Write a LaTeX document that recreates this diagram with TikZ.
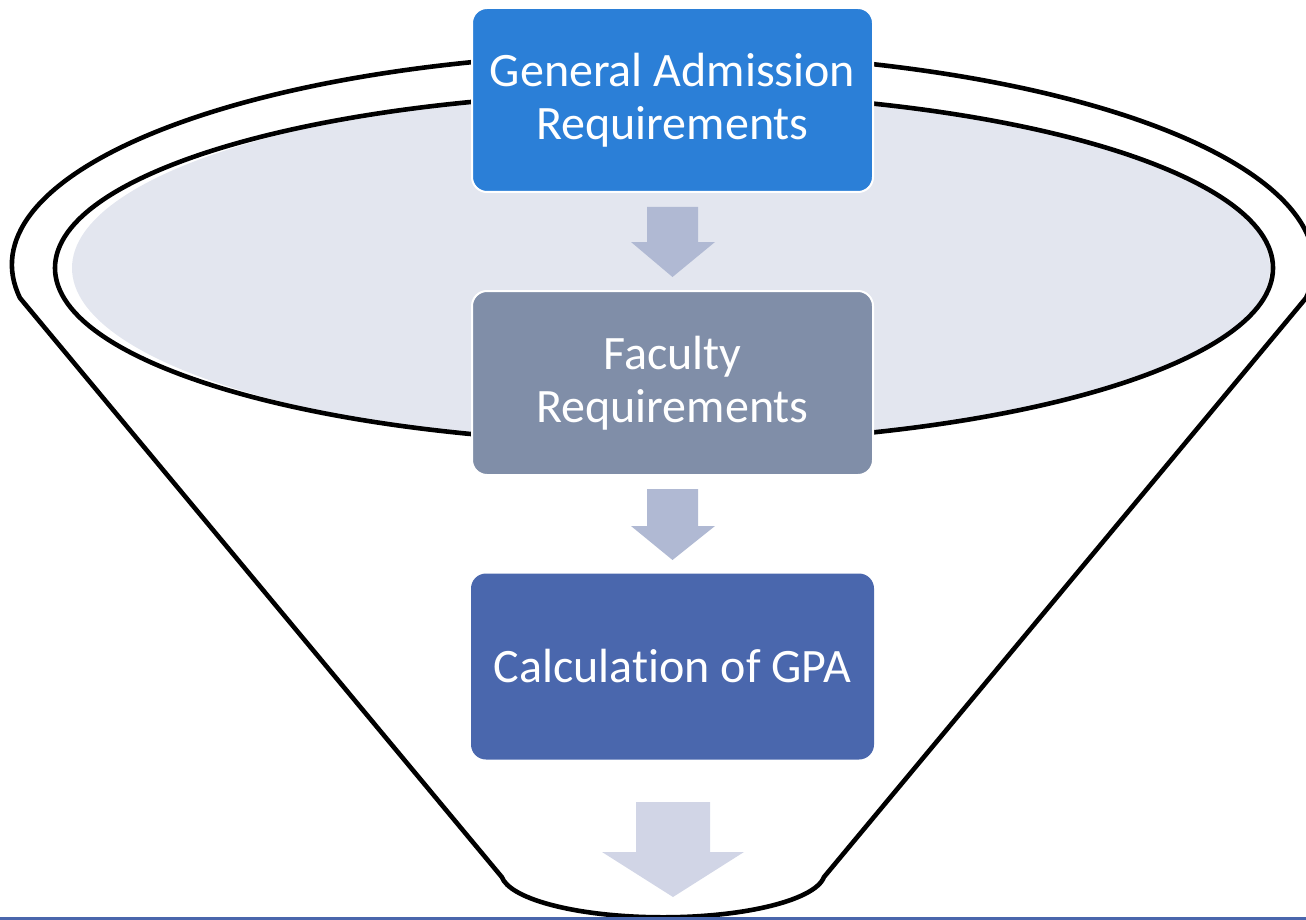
\documentclass[tikz,border=0pt]{standalone}
\usepackage{fontspec}
\setmainfont{Carlito}[RawFeature={-liga;-clig;-calt;-dlig}]
\definecolor{boxA}{RGB}{43,127,215}
\definecolor{boxB}{RGB}{128,142,168}
\definecolor{boxC}{RGB}{74,103,173}
\definecolor{arrA}{RGB}{176,185,211}
\definecolor{arrC}{RGB}{209,213,230}
\definecolor{ellfill}{RGB}{227,230,239}
\definecolor{barblue}{RGB}{74,102,172}
\begin{document}
\begin{tikzpicture}[x=1pt,y=-1pt,
  funnel/.style={draw=black,line width=4.6pt,line join=round},
  box/.style={rounded corners=15pt, draw=white, line width=2pt,
    minimum width=401pt, minimum height=184pt, text=white, align=center,
    font=\fontsize{48}{53}\selectfont, inner sep=0pt},
  blockarrow/.style={fill=#1, draw=none}]
\useasboundingbox (0,0) rectangle (1306,920);
\clip (0,0) rectangle (1306,920);
% funnel outline
\draw[funnel] (20,298) arc[start angle=171, end angle=369, x radius=651, y radius=212]
  -- (824,877) arc[start angle=6, end angle=174, x radius=162, y radius=45] -- cycle;
% inner ellipse
\fill[ellfill] (671,268) ellipse[x radius=599, y radius=176];
\draw[funnel] (664,268) ellipse[x radius=609, y radius=175];
% boxes
\node[box, fill=boxA] (gen) at (672.5,100) {General Admission\\Requirements};
\node[box, fill=boxB] (fac) at (672.5,383) {Faculty\\Requirements};
\node[box, fill=boxC, draw=none, minimum width=403pt, minimum height=186pt] (gpa) at (672.5,666.5) {Calculat\kern0pt ion of GPA};
% block arrows
\fill[blockarrow=arrA] (647,207) -- (698,207) -- (698,242) -- (715,242) -- (672.5,277) -- (631,242) -- (647,242) -- cycle;
\fill[blockarrow=arrA] (647,489) -- (698,489) -- (698,526) -- (715,526) -- (672.5,560) -- (631,526) -- (647,526) -- cycle;
\fill[blockarrow=arrC] (636,802) -- (710,802) -- (710,852) -- (744,852) -- (673,897) -- (602,852) -- (636,852) -- cycle;
% bottom bar
\fill[barblue] (0,917) rectangle (1306,920);
\end{tikzpicture}
\end{document}
